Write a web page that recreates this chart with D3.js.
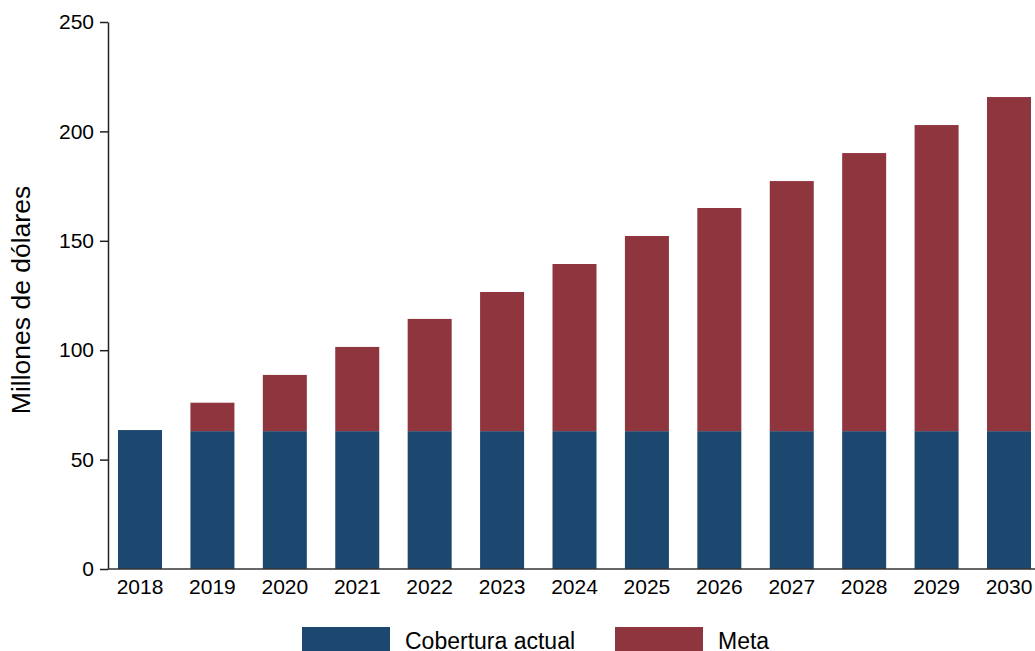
<!DOCTYPE html>
<html><head><meta charset="utf-8">
<script src="https://cdn.jsdelivr.net/npm/d3@7"></script>
<style>body{margin:0;background:#fff}svg{display:block;font-family:"Liberation Sans",Arial,sans-serif}</style>
</head><body>
<svg id="c" width="1035" height="651"></svg>
<script>
const years = ["2018","2019","2020","2021","2022","2023","2024","2025","2026","2027","2028","2029","2030"];
const cobertura = [63.5,63,63,63,63,63,63,63,63,63,63,63,63];
const meta = [0,13,25.7,38.5,51.3,63.6,76.4,89.2,102,114.3,127.1,139.9,152.7];
const yTicks = [0,50,100,150,200,250];
const seriesNames = ["Cobertura actual","Meta"];
const colors = ["#1c4870","#8f353d"];

const svg = d3.select("#c");
const x = d3.scalePoint().domain(years).range([140,1009]);
const bw = 44;
const y = d3.scaleLinear().domain([0,250]).range([569,22]);

const data = years.map((yr,i)=>({year:yr, c:cobertura[i], m:meta[i]}));
const stack = d3.stack().keys(["c","m"])(data);

svg.append("g").selectAll("g").data(stack).join("g")
  .attr("fill",(d,i)=>colors[i])
  .selectAll("rect").data(d=>d).join("rect")
  .attr("x",d=>x(d.data.year)-bw/2)
  .attr("width",bw)
  .attr("y",d=>y(d[1]))
  .attr("height",d=>Math.max(0,y(d[0])-y(d[1])));

// y axis
const ya = svg.append("g").attr("transform","translate(108,0)")
  .call(d3.axisLeft(y).tickValues(yTicks).tickSize(8).tickPadding(6).tickSizeOuter(0));
ya.select(".domain").attr("stroke","#222").attr("stroke-width",1.5);
ya.selectAll(".tick line").attr("stroke","#222").attr("stroke-width",1.5);
ya.selectAll("text").attr("font-size",21).attr("fill","#000").attr("font-family","Liberation Sans, Arial, sans-serif");

// x axis
svg.append("line").attr("x1",108).attr("x2",1035).attr("y1",y(0)).attr("y2",y(0))
  .attr("stroke","#333").attr("stroke-width",1.5);
svg.append("g").selectAll("text").data(years).join("text")
  .attr("x",d=>x(d)).attr("y",594).attr("text-anchor","middle")
  .attr("font-size",21).attr("fill","#000").text(d=>d);

// y label
svg.append("text").attr("transform","translate(30,300) rotate(-90)")
  .attr("text-anchor","middle").attr("font-size",26.5).attr("fill","#000")
  .text("Millones de dólares");

// legend
const lx = [302,615];
const lg = svg.append("g");
seriesNames.forEach((n,i)=>{
  lg.append("rect").attr("x",lx[i]).attr("y",627).attr("width",88).attr("height",30).attr("fill",colors[i]);
  lg.append("text").attr("x",lx[i]+103).attr("y",649).attr("font-size",23).attr("fill","#000").text(n);
});
</script>
</body></html>
